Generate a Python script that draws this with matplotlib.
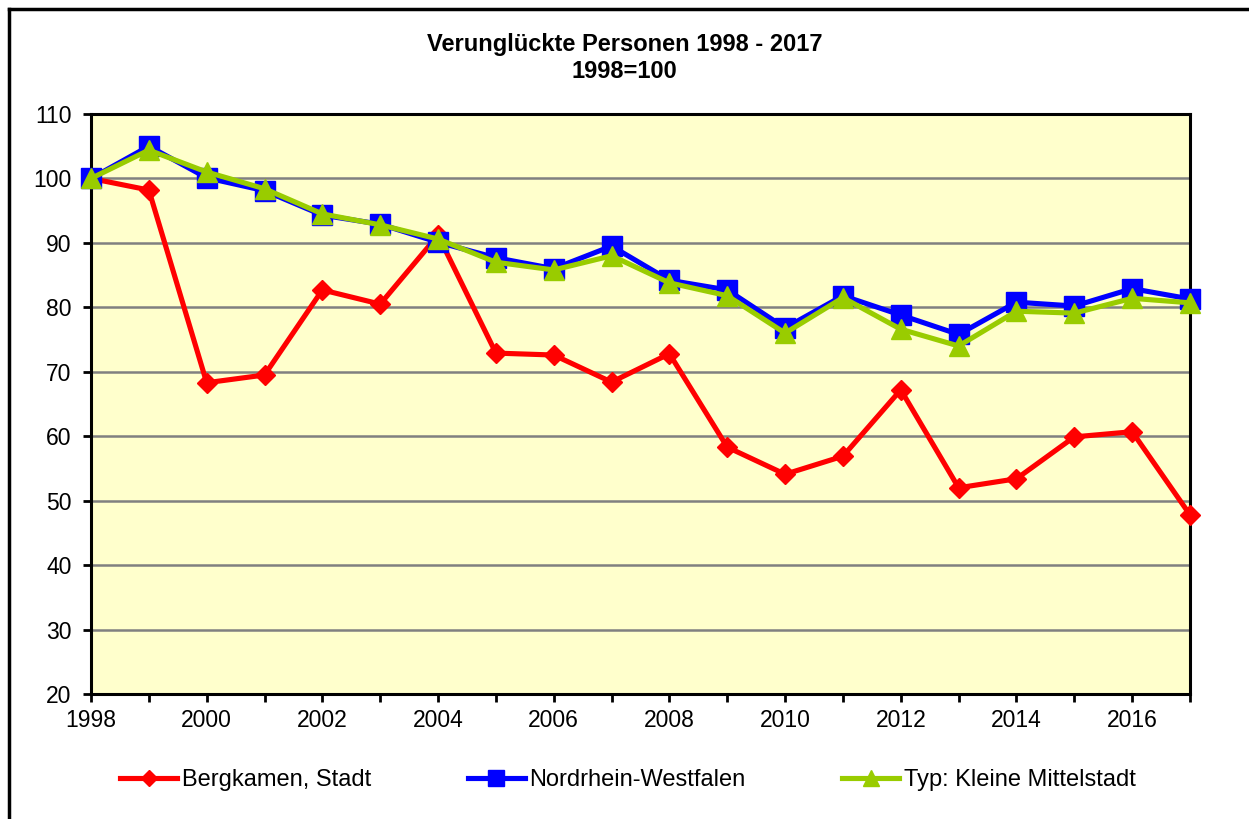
import matplotlib.pyplot as plt
from matplotlib.lines import Line2D
import numpy as np

plt.rcParams['font.family'] = ['Liberation Sans', 'DejaVu Sans']

years = list(range(1998, 2018))
bergkamen = [100, 98.2, 68.3, 69.5, 82.7, 80.5, 91.2, 72.9, 72.6, 68.4,
             72.8, 58.3, 54.1, 56.9, 67.2, 52.0, 53.4, 59.9, 60.7, 47.8]
nrw = [100, 105.0, 100.1, 98.1, 94.3, 92.9, 90.1, 87.7, 86.0, 89.5,
       84.2, 82.7, 76.8, 81.8, 78.8, 75.8, 80.8, 80.2, 82.9, 81.3]
mittelstadt = [100, 104.4, 101.0, 98.4, 94.5, 92.8, 90.6, 87.0, 85.8, 88.0,
               83.8, 81.8, 76.0, 81.5, 76.6, 74.0, 79.4, 79.1, 81.4, 80.7]
labels = ['Bergkamen, Stadt', 'Nordrhein-Westfalen', 'Typ: Kleine Mittelstadt']
title = 'Verunglückte Personen 1998 - 2017\n1998=100'

W, H = 1249, 819
fig = plt.figure(figsize=(W / 100, H / 100), dpi=100)
ax = fig.add_axes([91 / W, 1 - 694 / H, 1099 / W, 580 / H])
ax.set_facecolor('#FFFFCC')

ax.plot(years, bergkamen, color='#FF0000', lw=3.7, marker='D', ms=10,
        mec='#FF0000', zorder=3, clip_on=False, label=labels[0])
ax.plot(years, nrw, color='#0000FF', lw=3.7, marker='s', ms=14,
        mec='#0000FF', zorder=4, clip_on=False, label=labels[1])
ax.plot(years, mittelstadt, color='#99CC00', lw=3.7, marker='^', ms=14,
        mec='#99CC00', zorder=5, clip_on=False, label=labels[2])

ax.set_xlim(1998, 2017)
ax.set_ylim(20, 110)
ax.set_yticks(np.arange(20, 111, 10))
ax.set_xticks(range(1998, 2018, 2))
ax.set_xticks(range(1998, 2018), minor=True)
ax.yaxis.grid(True, color='#808080', lw=1.8)
ax.set_axisbelow(True)
for s in ax.spines.values():
    s.set_linewidth(2.2)
ax.tick_params(axis='both', labelsize=16.5, width=2, length=6, direction='out')
ax.tick_params(axis='y', pad=8)
ax.tick_params(axis='x', pad=5)
ax.tick_params(axis='x', which='minor', width=2, length=6)

fig.text(0.5, 1 - 58 / H, title, ha='center', va='center', fontsize=17,
         fontweight='bold', linespacing=1.2)

fig.legend(loc='center', bbox_to_anchor=(628 / W, 1 - 780 / H), ncol=3,
           frameon=False, fontsize=17, handlelength=2.4, handletextpad=0.2,
           columnspacing=4.1, markerscale=0.85)

# outer frame (top and left edge visible)
fig.add_artist(Line2D([9 / W, 9 / W], [0, 1 - 9 / H], transform=fig.transFigure,
                      color='black', lw=2.5))
fig.add_artist(Line2D([9 / W, 1], [1 - 9 / H, 1 - 9 / H], transform=fig.transFigure,
                      color='black', lw=2.5))

fig.savefig('out.png', dpi=100)
